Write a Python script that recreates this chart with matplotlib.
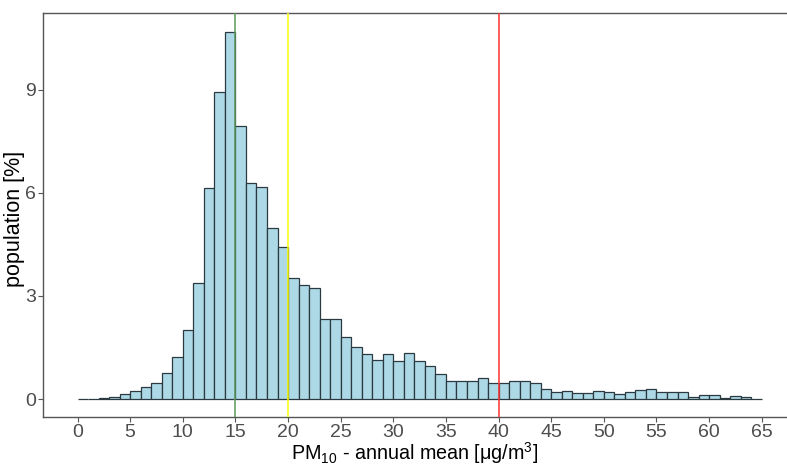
import matplotlib
matplotlib.use("Agg")
import matplotlib.pyplot as plt
import numpy as np

plt.rcParams['font.family'] = ['Liberation Sans', 'DejaVu Sans']
plt.rcParams['mathtext.fontset'] = 'custom'
plt.rcParams['mathtext.rm'] = 'Liberation Sans'
plt.rcParams['mathtext.it'] = 'Liberation Sans:italic'

# Histogram bins (width 1, from 0 to 65) and population share [%]
bin_edges = list(range(0, 66))
pop_share = [0.0, 0.0, 0.02, 0.05, 0.14, 0.24, 0.36, 0.47, 0.75, 1.21,
             2.0, 3.37, 6.14, 8.94, 10.68, 7.96, 6.30, 6.18, 4.99, 4.44,
             3.52, 3.31, 3.22, 2.32, 2.32, 1.81, 1.52, 1.30, 1.13, 1.30,
             1.11, 1.33, 1.11, 0.95, 0.73, 0.52, 0.52, 0.53, 0.60, 0.48,
             0.48, 0.51, 0.51, 0.47, 0.29, 0.19, 0.23, 0.18, 0.18, 0.23,
             0.21, 0.14, 0.21, 0.26, 0.30, 0.21, 0.21, 0.21, 0.07, 0.11,
             0.11, 0.03, 0.08, 0.06, 0.01]

ref_lines = [15, 20, 40]
ref_colors = ['#5a9a5a', '#ffff00', '#ff3030']

x_ticks = list(range(0, 66, 5))
y_ticks = [0, 3, 6, 9]

fig = plt.figure(figsize=(7.87, 4.67), dpi=100)
ax = fig.add_axes([43/787, 50/467, 1 - 43/787, (417-13)/467])

lefts = np.array(bin_edges[:-1])
widths = np.diff(bin_edges)
ax.bar(lefts, pop_share, width=widths, align='edge', color='#add8e6',
       edgecolor='#2b3a40', linewidth=0.9, zorder=2)

for xv, c in zip(ref_lines, ref_colors):
    ax.axvline(xv, color=c, linewidth=1.1, zorder=3)

ax.set_xlim(-3.28, 67.4)
ax.set_ylim(-0.524, 11.24)
ax.set_xticks(x_ticks)
ax.set_yticks(y_ticks)
ax.tick_params(axis='both', labelsize=14, labelcolor='#4d4d4d', color='#555555',
               length=3.5, width=0.8, direction='out', pad=1.5)

for s in ['left', 'bottom', 'top']:
    ax.spines[s].set_color('#555555')
    ax.spines[s].set_linewidth(1.0)
ax.spines['right'].set_visible(False)

ax.set_xlabel('PM$_{10}$ - annual mean [μg/m$^3$]', fontsize=14.2, color='black')
ax.set_ylabel('population [%]', fontsize=15.5, color='black')
ax.xaxis.set_label_coords(0.5, (27 - 50) / 404)
ax.yaxis.set_label_coords((25 - 43) / 744, 0.49)

fig.savefig('out.png', dpi=100)
